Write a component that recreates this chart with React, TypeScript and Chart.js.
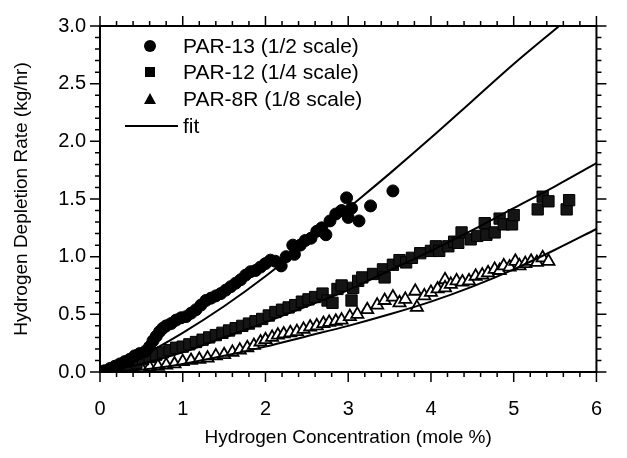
import React, { useEffect, useRef } from "react";
import { Chart, registerables } from "chart.js";

Chart.register(...registerables);

// ---- tick labels ----
const xTickLabels = [0, 1, 2, 3, 4, 5, 6];
const yTickLabels = [0, 0.5, 1.0, 1.5, 2.0, 2.5, 3.0];
const xMinorStep = 0.2;
const yMinorStep = 0.1;

// ---- legend ----
const legendLabels = ["PAR-13 (1/2 scale)", "PAR-12 (1/4 scale)", "PAR-8R (1/8 scale)", "fit"];

// ---- PAR-13 (1/2 scale) ----
const par13X = [0.05, 0.12, 0.18, 0.24, 0.3, 0.36, 0.42, 0.48, 0.55, 0.6, 0.64, 0.68, 0.72, 0.76, 0.8, 0.86, 0.92, 0.98, 1.04, 1.1, 1.16, 1.22, 1.28, 1.34, 1.4, 1.46, 1.52, 1.58, 1.64, 1.7, 1.76, 1.82, 1.88, 1.94, 2.0, 2.06, 2.12, 2.19, 2.25, 2.33, 2.35, 2.42, 2.48, 2.55, 2.62, 2.68, 2.73, 2.78, 2.85, 2.92, 2.98, 3.0, 3.04, 3.13, 3.27, 3.54];
const par13Y = [0.01, 0.03, 0.05, 0.07, 0.09, 0.11, 0.14, 0.16, 0.18, 0.22, 0.27, 0.31, 0.35, 0.38, 0.4, 0.42, 0.45, 0.47, 0.48, 0.51, 0.54, 0.58, 0.62, 0.64, 0.66, 0.68, 0.71, 0.74, 0.77, 0.8, 0.84, 0.87, 0.88, 0.91, 0.94, 0.97, 0.96, 0.92, 1.0, 1.1, 1.02, 1.1, 1.14, 1.16, 1.22, 1.25, 1.19, 1.31, 1.37, 1.4, 1.51, 1.34, 1.42, 1.31, 1.44, 1.57];

// ---- PAR-12 (1/4 scale) ----
const par12X = [0.2, 0.28, 0.36, 0.44, 0.52, 0.6, 0.68, 0.76, 0.84, 0.92, 1.0, 1.08, 1.16, 1.24, 1.32, 1.4, 1.48, 1.56, 1.64, 1.72, 1.8, 1.88, 1.96, 2.04, 2.12, 2.2, 2.28, 2.36, 2.44, 2.52, 2.6, 2.69, 2.75, 2.81, 2.87, 2.92, 3.04, 3.06, 3.12, 3.17, 3.3, 3.42, 3.44, 3.54, 3.62, 3.7, 3.77, 3.87, 4.0, 4.06, 4.1, 4.21, 4.28, 4.33, 4.37, 4.48, 4.56, 4.65, 4.67, 4.77, 4.83, 4.88, 4.98, 5.0, 5.29, 5.35, 5.42, 5.64, 5.67];
const par12Y = [0.02, 0.04, 0.06, 0.08, 0.11, 0.13, 0.15, 0.17, 0.19, 0.21, 0.22, 0.24, 0.26, 0.28, 0.3, 0.32, 0.34, 0.36, 0.38, 0.4, 0.42, 0.44, 0.46, 0.49, 0.52, 0.54, 0.56, 0.58, 0.61, 0.63, 0.65, 0.68, 0.62, 0.6, 0.72, 0.75, 0.62, 0.73, 0.79, 0.82, 0.85, 0.89, 0.82, 0.93, 0.97, 0.95, 0.99, 1.03, 1.05, 1.09, 1.05, 1.09, 1.13, 1.12, 1.21, 1.15, 1.18, 1.29, 1.19, 1.21, 1.33, 1.28, 1.28, 1.36, 1.41, 1.52, 1.48, 1.41, 1.49];

// ---- PAR-8R (1/8 scale) ----
const par8X = [0.3, 0.4, 0.5, 0.6, 0.7, 0.8, 0.9, 1.0, 1.1, 1.2, 1.3, 1.4, 1.5, 1.6, 1.69, 1.78, 1.86, 1.94, 2.0, 2.08, 2.15, 2.22, 2.3, 2.38, 2.46, 2.54, 2.62, 2.7, 2.77, 2.85, 2.92, 3.02, 3.11, 3.23, 3.35, 3.44, 3.54, 3.62, 3.69, 3.81, 3.83, 3.92, 4.0, 4.08, 4.17, 4.17, 4.24, 4.31, 4.38, 4.46, 4.54, 4.62, 4.69, 4.77, 4.83, 4.88, 4.95, 5.02, 5.07, 5.14, 5.21, 5.28, 5.35, 5.42];
const par8Y = [0.01, 0.02, 0.03, 0.04, 0.05, 0.06, 0.07, 0.09, 0.1, 0.11, 0.12, 0.14, 0.15, 0.17, 0.19, 0.21, 0.23, 0.26, 0.28, 0.3, 0.32, 0.33, 0.34, 0.35, 0.37, 0.39, 0.4, 0.42, 0.43, 0.44, 0.45, 0.48, 0.5, 0.54, 0.58, 0.62, 0.65, 0.6, 0.63, 0.7, 0.56, 0.66, 0.69, 0.72, 0.8, 0.73, 0.76, 0.79, 0.78, 0.79, 0.83, 0.84, 0.86, 0.89, 0.88, 0.92, 0.91, 0.96, 0.92, 0.94, 0.96, 0.95, 0.99, 0.96];

// ---- fit curves ----
const fit13X = [0, 0.5, 1, 1.5, 2, 2.5, 3, 3.5, 4, 4.5, 5, 5.55];
const fit13Y = [0, 0.14, 0.34, 0.57, 0.83, 1.12, 1.42, 1.72, 2.03, 2.35, 2.67, 3.0];
const fit12X = [0, 0.5, 1, 1.5, 2, 2.5, 3, 3.5, 4, 4.5, 5, 5.5, 6];
const fit12Y = [0, 0.07, 0.17, 0.3, 0.43, 0.57, 0.71, 0.88, 1.05, 1.23, 1.42, 1.61, 1.81];
const fit8X = [0, 0.5, 1, 1.5, 2, 2.5, 3, 3.5, 4, 4.5, 5, 5.5, 6];
const fit8Y = [0, 0.02, 0.07, 0.14, 0.22, 0.31, 0.4, 0.5, 0.61, 0.74, 0.89, 1.06, 1.24];

const toPts = (xs: number[], ys: number[]) => xs.map((x, i) => ({ x, y: ys[i] }));

const FONT = "'Liberation Sans', Arial, Helvetica, sans-serif";

const frameTicksPlugin = {
  id: "frameTicks",
  afterDraw(chart: any) {
    const { ctx, chartArea } = chart;
    const xs = chart.scales.x;
    const ys = chart.scales.y;
    const { left, right, top, bottom } = chartArea;
    ctx.save();
    ctx.strokeStyle = "#000";
    ctx.lineWidth = 2;
    ctx.strokeRect(left, top, right - left, bottom - top);
    ctx.lineWidth = 1.5;
    const major = 10;
    const minor = 5;
    for (let i = 0; i <= Math.round((xs.max - xs.min) / xMinorStep); i++) {
      const v = xs.min + i * xMinorStep;
      const isMajor = Math.abs(v - Math.round(v)) < 1e-6;
      const len = isMajor ? major : minor;
      const px = xs.getPixelForValue(v);
      ctx.beginPath();
      ctx.moveTo(px, bottom);
      ctx.lineTo(px, bottom + len);
      ctx.moveTo(px, top);
      ctx.lineTo(px, top - len);
      ctx.stroke();
    }
    for (let i = 0; i <= Math.round((ys.max - ys.min) / yMinorStep); i++) {
      const v = ys.min + i * yMinorStep;
      const isMajor = Math.abs(v * 2 - Math.round(v * 2)) < 1e-6;
      const len = isMajor ? major : minor;
      const py = ys.getPixelForValue(v);
      ctx.beginPath();
      ctx.moveTo(left, py);
      ctx.lineTo(left - len, py);
      ctx.moveTo(right, py);
      ctx.lineTo(right + len, py);
      ctx.stroke();
    }
    ctx.restore();
  },
};

const legendPlugin = {
  id: "insideLegend",
  afterDraw(chart: any) {
    const { ctx, chartArea } = chart;
    const sx = chartArea.left + 50;
    const tx = chartArea.left + 83;
    const rows = [20, 46, 73, 100].map((d) => chartArea.top + d);
    ctx.save();
    ctx.fillStyle = "#000";
    ctx.strokeStyle = "#000";
    ctx.beginPath();
    ctx.arc(sx, rows[0], 6, 0, Math.PI * 2);
    ctx.fill();
    ctx.fillRect(sx - 5, rows[1] - 5, 10, 10);
    ctx.beginPath();
    ctx.moveTo(sx, rows[2] - 6);
    ctx.lineTo(sx + 6, rows[2] + 5);
    ctx.lineTo(sx - 6, rows[2] + 5);
    ctx.closePath();
    ctx.fill();
    ctx.lineWidth = 2;
    ctx.beginPath();
    ctx.moveTo(sx - 25, rows[3]);
    ctx.lineTo(sx + 28, rows[3]);
    ctx.stroke();
    ctx.font = `21px ${FONT}`;
    ctx.textBaseline = "middle";
    ctx.textAlign = "left";
    legendLabels.forEach((t, i) => ctx.fillText(t, tx, rows[i] + 1));
    ctx.restore();
  },
};

export default function App() {
  const ref = useRef<HTMLCanvasElement | null>(null);
  useEffect(() => {
    if (!ref.current) return;
    const lineDs = (xs: number[], ys: number[]) => ({
      type: "line" as const,
      label: "fit",
      data: toPts(xs, ys),
      borderColor: "#000",
      borderWidth: 2,
      pointRadius: 0,
      showLine: true,
      fill: false,
      cubicInterpolationMode: "monotone" as const,
      order: 0,
    });
    const chart = new Chart(ref.current, {
      type: "scatter",
      data: {
        datasets: [
          lineDs(fit13X, fit13Y),
          lineDs(fit12X, fit12Y),
          lineDs(fit8X, fit8Y),
          {
            label: legendLabels[0],
            data: toPts(par13X, par13Y),
            pointStyle: "circle",
            pointRadius: 6,
            backgroundColor: "#000",
            borderColor: "#000",
            borderWidth: 1,
            order: 1,
          },
          {
            label: legendLabels[1],
            data: toPts(par12X, par12Y),
            pointStyle: "rect",
            pointRadius: 8,
            backgroundColor: "#151515",
            borderColor: "#000",
            borderWidth: 1,
            order: 1,
          },
          {
            label: legendLabels[2],
            data: toPts(par8X, par8Y),
            pointStyle: "triangle",
            pointRadius: 7,
            backgroundColor: "#fff",
            borderColor: "#000",
            borderWidth: 1.8,
            order: 1,
          },
        ] as any,
      },
      options: {
        responsive: false,
        animation: false,
        layout: { padding: { top: 11, right: 7, left: 0, bottom: 0 } },
        plugins: { legend: { display: false }, tooltip: { enabled: false } },
        scales: {
          x: {
            type: "linear",
            min: 0,
            max: 6,
            afterFit: (s: any) => {
              s.height = 86;
            },
            afterBuildTicks: (s: any) => {
              s.ticks = xTickLabels.map((v) => ({ value: v }));
            },
            grid: { display: false, drawTicks: false },
            border: { display: false },
            ticks: {
              color: "#000",
              font: { size: 20, family: FONT },
              padding: 25,
              callback: (v: any) => String(v),
            },
            title: {
              display: true,
              text: "Hydrogen Concentration (mole %)",
              color: "#000",
              font: { size: 19, family: FONT },
              padding: { top: 0, bottom: 9 },
            },
          },
          y: {
            type: "linear",
            min: 0,
            max: 3,
            afterFit: (s: any) => {
              s.width = 100;
            },
            afterBuildTicks: (s: any) => {
              s.ticks = yTickLabels.map((v) => ({ value: v }));
            },
            grid: { display: false, drawTicks: false },
            border: { display: false },
            ticks: {
              color: "#000",
              font: { size: 20, family: FONT },
              padding: 14,
              callback: (v: any) => Number(v).toFixed(1),
            },
            title: {
              display: true,
              text: "Hydrogen Depletion Rate (kg/hr)",
              color: "#000",
              font: { size: 19, family: FONT },
              padding: { top: 10, bottom: 0 },
            },
          },
        },
      },
      plugins: [frameTicksPlugin, legendPlugin],
    });
    return () => chart.destroy();
  }, []);
  return (
    <div style={{ position: "absolute", left: 0, top: 0, width: 627, height: 458, background: "#fff" }}>
      <canvas ref={ref} width={627} height={458} />
    </div>
  );
}
